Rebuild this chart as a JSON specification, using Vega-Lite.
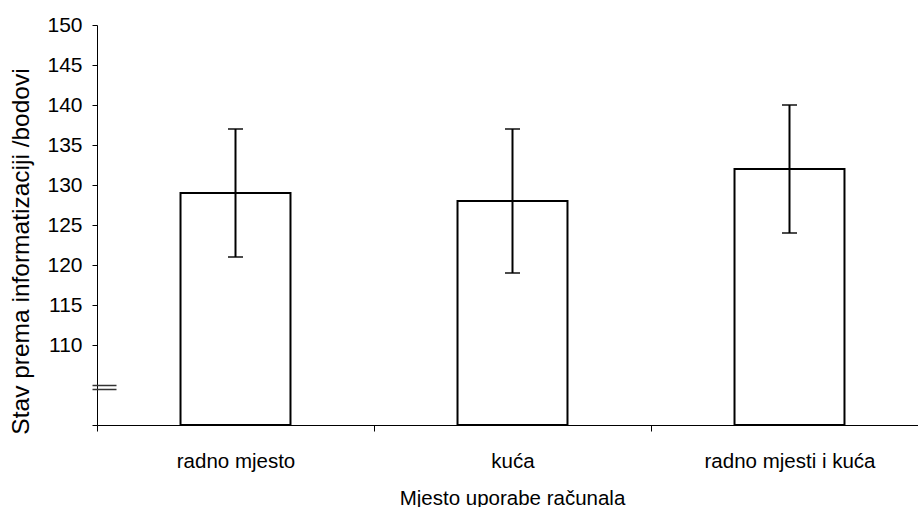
{
  "$schema": "https://vega.github.io/schema/vega-lite/v6.json",
  "autosize": "none",
  "width": 821,
  "height": 400,
  "padding": {"left": 97, "top": 25, "right": 0, "bottom": 82},
  "background": "white",
  "config": {
    "view": {"stroke": null},
    "font": "Liberation Sans",
    "axis": {"labelFont": "Liberation Sans", "titleFont": "Liberation Sans", "labelColor": "black", "titleColor": "black", "domainColor": "black", "tickColor": "black", "grid": false, "titleFontWeight": "normal"}
  },
  "datasets": {
    "bars": [
      {"mjesto": "radno mjesto", "mean": 129, "lo": 121, "hi": 137},
      {"mjesto": "kuća", "mean": 128, "lo": 119, "hi": 137},
      {"mjesto": "radno mjesti i kuća", "mean": 132, "lo": 124, "hi": 140}
    ],
    "breaks": [{"v": 105}, {"v": 104.5}]
  },
  "layer": [
    {
      "data": {"name": "bars"},
      "mark": {"type": "bar", "fill": "white", "stroke": "black", "strokeWidth": 2, "width": {"band": 0.397}},
      "encoding": {
        "x": {
          "field": "mjesto", "type": "nominal", "sort": null,
          "scale": {"range": [0, 831], "paddingInner": 0, "paddingOuter": 0},
          "axis": {"title": "Mjesto uporabe računala", "labelAngle": 0, "labelFontSize": 20.5, "titleFontSize": 20.5, "tickBand": "extent", "tickSize": 6, "labelPadding": 20, "labelBaseline": "top", "titleY": 79, "titleBaseline": "alphabetic", "titleX": 415, "domainWidth": 1, "tickWidth": 1}
        },
        "y": {
          "field": "mean", "type": "quantitative",
          "scale": {"domain": [100, 150], "zero": false, "nice": false},
          "axis": {"title": "Stav prema informatizaciji /bodovi", "values": [100, 110, 115, 120, 125, 130, 135, 140, 145, 150], "labelExpr": "datum.value < 105 ? '' : datum.label", "labelFontSize": 21, "titleFontSize": 24.5, "tickSize": 5, "labelPadding": 10, "titleAngle": -90, "titleX": -69, "titleY": 226, "titleAlign": "center", "titleBaseline": "alphabetic", "domainWidth": 1, "tickWidth": 1}
        },
        "y2": {"datum": 100}
      }
    },
    {
      "data": {"name": "bars"},
      "mark": {"type": "rule", "color": "black", "strokeWidth": 2},
      "encoding": {
        "x": {"field": "mjesto", "type": "nominal", "sort": null},
        "y": {"field": "lo", "type": "quantitative"},
        "y2": {"field": "hi"}
      }
    },
    {
      "data": {"name": "bars"},
      "mark": {"type": "tick", "orient": "horizontal", "color": "black", "thickness": 2, "size": 15},
      "encoding": {
        "x": {"field": "mjesto", "type": "nominal", "sort": null},
        "y": {"field": "lo", "type": "quantitative"}
      }
    },
    {
      "data": {"name": "bars"},
      "mark": {"type": "tick", "orient": "horizontal", "color": "black", "thickness": 2, "size": 15},
      "encoding": {
        "x": {"field": "mjesto", "type": "nominal", "sort": null},
        "y": {"field": "hi", "type": "quantitative"}
      }
    },
    {
      "data": {"name": "breaks"},
      "mark": {"type": "point", "opacity": 0},
      "encoding": {
        "y": {
          "field": "v", "type": "quantitative",
          "axis": {"orient": "left", "values": [104.5, 105], "labels": false, "domain": false, "title": null, "tickSize": 24, "offset": -19, "tickColor": "#333333", "tickWidth": 1.5}
        }
      }
    }
  ],
  "resolve": {"axis": {"y": "independent"}}
}
